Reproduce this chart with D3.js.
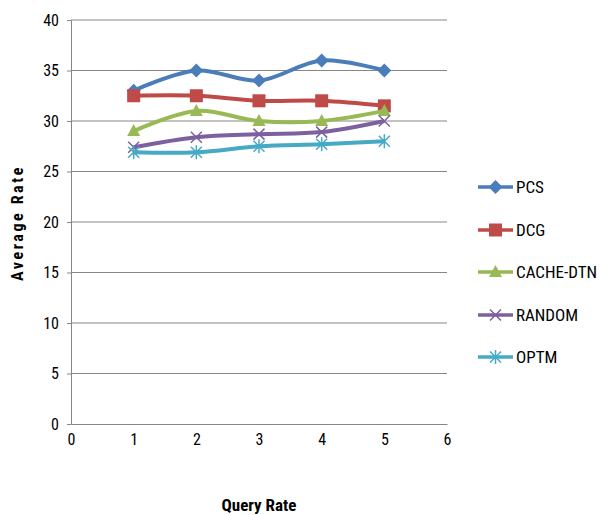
<!DOCTYPE html>
<html><head><meta charset="utf-8">
<script src="https://cdn.jsdelivr.net/npm/d3@7"></script>
<style>
body{margin:0;background:#fff;}
text{font-family:"Liberation Sans Narrow","Roboto Condensed","Liberation Sans",Arial,sans-serif;}
</style></head>
<body><svg id="c" width="599" height="515"></svg>
<script>
const xValues = [1, 2, 3, 4, 5];
const seriesNames = ["PCS", "DCG", "CACHE-DTN", "RANDOM", "OPTM"];
const pcs = [33, 35, 34, 36, 35];
const dcg = [32.5, 32.5, 32, 32, 31.5];
const cacheDtn = [29, 31, 30, 30, 31];
const random = [27.4, 28.4, 28.7, 28.9, 30];
const optm = [26.9, 26.9, 27.5, 27.7, 28];
const xTicks = [0, 1, 2, 3, 4, 5, 6];
const yTicks = [0, 5, 10, 15, 20, 25, 30, 35, 40];
const colors = ["#4a7ebb", "#be4b48", "#98b954", "#7d60a0", "#46aac5"];
const markers = ["diamond", "square", "triangle", "x", "star"];
const allValues = [pcs, dcg, cacheDtn, random, optm];

const svg = d3.select("#c");
const x = d3.scaleLinear().domain([0, 6]).range([71, 447]);
const y = d3.scaleLinear().domain([0, 40]).range([424, 20]);

// gridlines
svg.append("g").selectAll("line").data(yTicks.filter(d => d > 0)).join("line")
  .attr("x1", x(0)).attr("x2", x(6)).attr("y1", d => y(d)).attr("y2", d => y(d))
  .attr("stroke", "#868686").attr("stroke-width", 1);

// y axis
const ya = svg.append("g").attr("transform", `translate(${x(0)},0)`)
  .call(d3.axisLeft(y).tickValues(yTicks).tickSize(4).tickPadding(8).tickFormat(d3.format("d")));
ya.select(".domain").attr("stroke", "#868686");
ya.selectAll(".tick line").attr("stroke", "#868686");
ya.selectAll("text").attr("font-size", 16).attr("fill", "#000");

// x axis
const xa = svg.append("g").attr("transform", `translate(0,${y(0)})`)
  .call(d3.axisBottom(x).tickValues(xTicks).tickSize(0).tickPadding(10).tickFormat(d3.format("d")));
xa.select(".domain").attr("stroke", "#868686");
xa.selectAll("text").attr("font-size", 16).attr("fill", "#000");

svg.append("text").attr("transform", "translate(23,223) rotate(-90)")
  .attr("text-anchor", "middle").attr("font-weight", "bold").attr("font-size", 16)
  .attr("letter-spacing", 2.6).text("Average Rate");
svg.append("text").attr("x", 259).attr("y", 511)
  .attr("text-anchor", "middle").attr("font-weight", "bold").attr("font-size", 17).text("Query Rate");

const line = d3.line().x(d => x(d[0])).y(d => y(d[1])).curve(d3.curveCatmullRom.alpha(0.5));

function drawMarker(g, type, cx, cy, col) {
  const s = 7;
  if (type === "diamond") {
    g.append("path").attr("d", `M${cx},${cy - s}L${cx + s},${cy}L${cx},${cy + s}L${cx - s},${cy}Z`).attr("fill", col);
  } else if (type === "square") {
    g.append("rect").attr("x", cx - 6.5).attr("y", cy - 6.5).attr("width", 13).attr("height", 13).attr("fill", col);
  } else if (type === "triangle") {
    g.append("path").attr("d", `M${cx},${cy - 7}L${cx + 6.5},${cy + 5}L${cx - 6.5},${cy + 5}Z`).attr("fill", col);
  } else if (type === "x") {
    g.append("path").attr("d", `M${cx - 5.5},${cy - 5.5}L${cx + 5.5},${cy + 5.5}M${cx - 5.5},${cy + 5.5}L${cx + 5.5},${cy - 5.5}`)
      .attr("stroke", col).attr("stroke-width", 1.5).attr("fill", "none");
  } else {
    g.append("path").attr("d", `M${cx - 5.5},${cy - 5.5}L${cx + 5.5},${cy + 5.5}M${cx - 5.5},${cy + 5.5}L${cx + 5.5},${cy - 5.5}M${cx},${cy - 7}L${cx},${cy + 7}`)
      .attr("stroke", col).attr("stroke-width", 1.5).attr("fill", "none");
  }
}

allValues.forEach((vals, i) => {
  const g = svg.append("g");
  const pts = xValues.map((xv, j) => [xv, vals[j]]);
  g.append("path").attr("d", line(pts)).attr("fill", "none").attr("stroke", colors[i]).attr("stroke-width", 4);
  pts.forEach(p => drawMarker(g, markers[i], x(p[0]), y(p[1]), colors[i]));
});

// legend
const legendY = [187, 230, 272, 315, 357];
seriesNames.forEach((name, i) => {
  const g = svg.append("g");
  g.append("line").attr("x1", 478).attr("x2", 513).attr("y1", legendY[i]).attr("y2", legendY[i])
    .attr("stroke", colors[i]).attr("stroke-width", 3.5);
  drawMarker(g, markers[i], 495.5, legendY[i], colors[i]);
  g.append("text").attr("x", 516).attr("y", legendY[i] + 6).attr("font-size", 17).attr("fill", "#000").text(name);
});
</script></body></html>
